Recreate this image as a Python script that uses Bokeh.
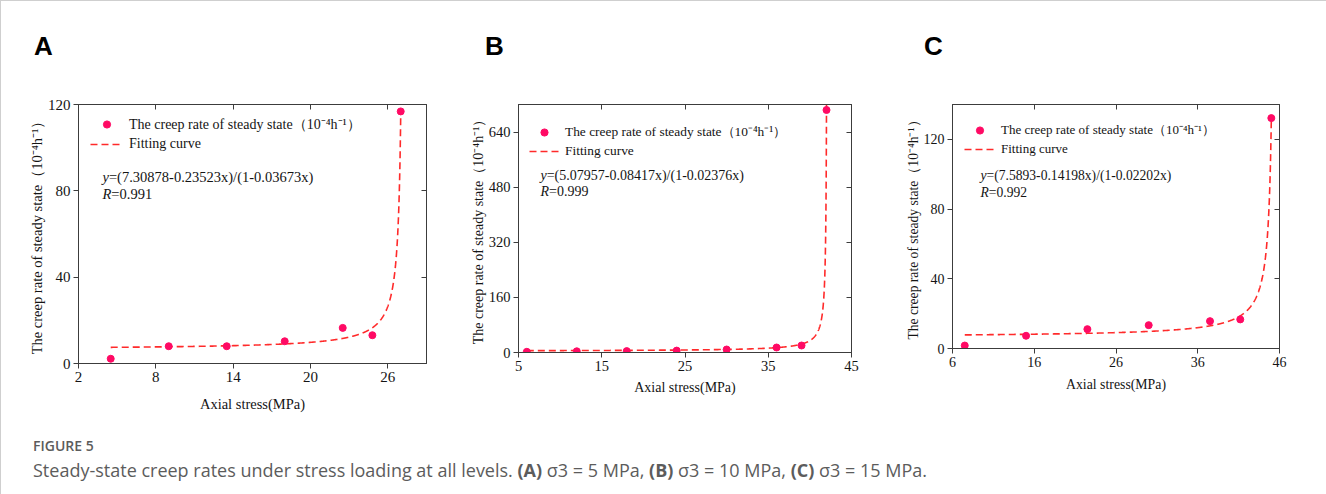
import numpy as np
from bokeh.plotting import figure
from bokeh.models import (LinearAxis, FixedTicker, Range1d, Label, Legend,
                          LegendItem, Div)
from bokeh.layouts import row, column
from bokeh.embed import file_html
from bokeh.resources import INLINE

# ---------------- data ----------------
# Panel A: sigma3 = 5 MPa
a_stress = [4.5, 9.0, 13.5, 18.0, 22.5, 24.8, 27.0]
a_rate = [2.2, 8.0, 8.0, 10.3, 16.5, 13.1, 116.8]
a_fit = [7.30878, 0.23523, 0.03673]          # y=(a-b x)/(1-c x)
a_eq = "=(7.30878-0.23523x)/(1-0.03673x)"
a_r = "=0.991"
a_xticks = [2, 8, 14, 20, 26]
a_yticks = [0, 40, 80, 120]

# Panel B: sigma3 = 10 MPa
b_stress = [6.0, 12.0, 18.0, 24.0, 30.0, 36.0, 39.0, 42.0]
b_rate = [2.0, 3.5, 4.0, 5.5, 8.7, 14.5, 20.3, 704.0]
b_fit = [5.07957, 0.08417, 0.02376]
b_eq = "=(5.07957-0.08417x)/(1-0.02376x)"
b_r = "=0.999"
b_xticks = [5, 15, 25, 35, 45]
b_yticks = [0, 160, 320, 480, 640]

# Panel C: sigma3 = 15 MPa
c_stress = [7.5, 15.0, 22.5, 30.0, 37.5, 41.2, 45.0]
c_rate = [1.7, 7.3, 11.1, 13.4, 15.7, 16.7, 132.2]
c_fit = [7.5893, 0.14198, 0.02202]
c_eq = "=(7.5893-0.14198x)/(1-0.02202x)"
c_r = "=0.992"
c_xticks = [6, 16, 26, 36, 46]
c_yticks = [0, 40, 80, 120]

legend_points = "The creep rate of steady state（10⁻⁴h⁻¹）"
legend_fit = "Fitting curve"
x_title = "Axial stress(MPa)"
y_title = "The creep rate of steady state（10⁻⁴h⁻¹）"

SERIF = "Liberation Serif"
DOT = "#ff0a64"
LINE = "#ff2a2a"
FRAME = "#3c3c3c"
TXT = "#141414"


def panel(xs, ys, fit, eq, rtxt, xticks, yticks, xr, yr, g):
    p = figure(frame_width=g["fw"], frame_height=g["fh"],
               x_range=Range1d(*xr), y_range=Range1d(*yr),
               output_backend="svg", toolbar_location=None,
               min_border_left=g["bl"], min_border_right=g["br"],
               min_border_top=g["bt"], min_border_bottom=g["bb"],
               background_fill_color="white", border_fill_color="white")
    p.grid.visible = False
    p.outline_line_color = FRAME
    p.outline_line_width = 1

    # fitting curve evaluated from the printed equation
    a, b, c = fit
    fx = np.linspace(xs[0], xs[-1], 3000)
    fy = (a - b * fx) / (1 - c * fx)
    ln = p.line(fx, fy, line_color=LINE, line_width=1.6, line_dash="7 4")
    sc = p.scatter(xs, ys, size=7, marker="circle", fill_color=DOT,
                   line_color=DOT)

    xa = p.xaxis[0]
    ya = p.yaxis[0]
    for ax, ticks in ((xa, xticks), (ya, yticks)):
        ax.ticker = FixedTicker(ticks=ticks)
        ax.minor_tick_line_color = None
        ax.major_tick_in = 0
        ax.major_tick_out = 5
        ax.major_tick_line_color = FRAME
        ax.axis_line_color = FRAME
        ax.major_label_text_font = SERIF
        ax.major_label_text_font_size = g["tick_fs"]
        ax.major_label_text_color = TXT
        ax.major_label_standoff = 3
        ax.axis_label_text_font = SERIF
        ax.axis_label_text_font_style = "normal"
        ax.axis_label_text_color = TXT
    xa.axis_label = x_title
    xa.axis_label_text_font_size = g["xlab_fs"]
    xa.axis_label_standoff = g["xlab_so"]
    ya.axis_label = y_title
    ya.axis_label_text_font_size = g["ylab_fs"]
    ya.axis_label_standoff = g["ylab_so"]

    # mirrored axes with inward ticks, no labels
    top = LinearAxis(ticker=FixedTicker(ticks=xticks))
    right = LinearAxis(ticker=FixedTicker(ticks=yticks))
    for ax in (top, right):
        ax.major_tick_in = 5
        ax.major_tick_out = 0
        ax.minor_tick_line_color = None
        ax.major_tick_line_color = FRAME
        ax.axis_line_color = FRAME
        ax.major_label_text_font_size = "1px"
        ax.major_label_text_color = None
        ax.major_label_standoff = 0
    p.add_layout(top, "above")
    p.add_layout(right, "right")

    legend = Legend(items=[LegendItem(label=legend_points, renderers=[sc]),
                           LegendItem(label=legend_fit, renderers=[ln])],
                    location=g["leg_loc"], glyph_width=g["gw"],
                    glyph_height=18, label_height=18, label_standoff=6,
                    spacing=1, padding=0, margin=0,
                    border_line_color=None, background_fill_alpha=0,
                    label_text_font=SERIF, label_text_font_size=g["leg_fs"],
                    label_text_color=TXT)
    p.add_layout(legend)

    efs = g["eq_fs"]
    ex, ey, ry = g["eq"]
    px = float(efs.replace("px", ""))
    p.add_layout(Label(x=ex, y=ey, x_units="screen", y_units="screen",
                       text="y", text_font=SERIF, text_font_style="italic",
                       text_font_size=efs, text_baseline="middle",
                       text_color=TXT))
    p.add_layout(Label(x=ex + 0.444 * px, y=ey, x_units="screen",
                       y_units="screen", text=eq, text_font=SERIF,
                       text_font_size=efs, text_baseline="middle",
                       text_color=TXT))
    p.add_layout(Label(x=ex, y=ry, x_units="screen", y_units="screen",
                       text="R", text_font=SERIF, text_font_style="italic",
                       text_font_size=efs, text_baseline="middle",
                       text_color=TXT))
    p.add_layout(Label(x=ex + 0.611 * px, y=ry, x_units="screen",
                       y_units="screen", text=rtxt, text_font=SERIF,
                       text_font_size=efs, text_baseline="middle",
                       text_color=TXT))
    return p


gA = dict(fw=348, fh=259, bl=77, br=15, bt=33, bb=70, tick_fs="15px",
          xlab_fs="14.5px", xlab_so=11, ylab_fs="14.5px", ylab_so=0,
          leg_loc=(12, 210), gw=33, leg_fs="14px", eq_fs="14.5px",
          eq=(24, 187, 170))
gB = dict(fw=333, fh=248, bl=77, br=30, bt=35, bb=79, tick_fs="14.5px",
          xlab_fs="14px", xlab_so=6, ylab_fs="14px", ylab_so=0,
          leg_loc=(11, 192), gw=30, leg_fs="13.4px", eq_fs="14px",
          eq=(22, 177, 161))
gC = dict(fw=327, fh=244, bl=71, br=32, bt=18, bb=100, tick_fs="14px",
          xlab_fs="13.8px", xlab_so=7, ylab_fs="13.6px", ylab_so=0,
          leg_loc=(12, 190), gw=31, leg_fs="13px", eq_fs="13.6px",
          eq=(28, 173, 156))

pA = panel(a_stress, a_rate, a_fit, a_eq, a_r, a_xticks, a_yticks,
           (2, 29), (0, 120), gA)
pB = panel(b_stress, b_rate, b_fit, b_eq, b_r, b_xticks, b_yticks,
           (5, 45), (0, 720), gB)
pC = panel(c_stress, c_rate, c_fit, c_eq, c_r, c_xticks, c_yticks,
           (6, 46), (0, 140), gC)


def letter_div(letter, width, pad_left):
    return Div(width=width, height=58, text=(
        f'<div style="padding-top:27px;padding-left:{pad_left}px;'
        'font-family:\'Liberation Sans\';font-weight:bold;font-size:26px;'
        f'line-height:26px;color:#000;">{letter}</div>'))


letters = row(letter_div("A", 440, 28), letter_div("B", 440, 29),
              letter_div("C", 430, 18))

caption = Div(width=1300, height=62, text=(
    '<div style="padding-top:1px;padding-left:27px;font-family:\'Open Sans\';color:#5c5c5c;">'
    '<div style="font-size:14px;font-weight:600;line-height:18px;">FIGURE 5</div>'
    '<div style="font-size:18px;line-height:20px;margin-top:5px;">'
    'Steady-state creep rates under stress loading at all levels. '
    '<b>(A)</b> σ3 = 5 MPa, <b>(B)</b> σ3 = 10 MPa, '
    '<b>(C)</b> σ3 = 15 MPa.</div></div>'))

layout = column(letters, row(pA, pB, pC), caption,
                styles={"border-top": "1px solid #cfcfcf",
                        "border-left": "1px solid #cfcfcf"})

open("out.html", "w").write(file_html(layout, INLINE))
